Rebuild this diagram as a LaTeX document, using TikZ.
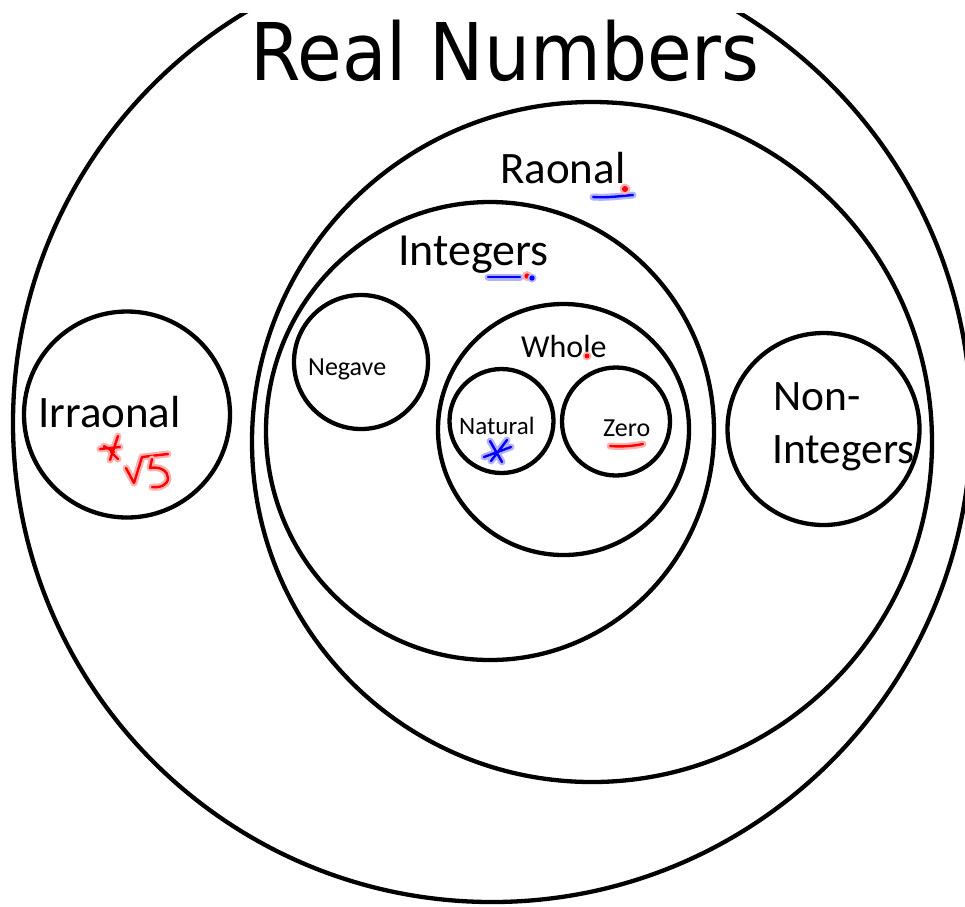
\documentclass[tikz,border=0pt]{standalone}
\usepackage{fontspec}
\setmainfont{Carlito}
\newfontfamily\titlefont{DejaVu Sans}
\usetikzlibrary{shapes.geometric}
\tikzset{
  setring/.style={draw=black, line width=4.3pt, shape=ellipse, inner sep=0pt, fill=none},
  lbl/.style={anchor=base west, inner sep=0pt, text=black},
  redink/.style={draw=red, line width=2.4pt, line cap=round, line join=round,
    preaction={draw=red!30, line width=7pt, line cap=round, line join=round}},
  blueink/.style={draw=blue, line width=2.4pt, line cap=round, line join=round,
    preaction={draw=blue!30, line width=7pt, line cap=round, line join=round}}
}
\begin{document}
\begin{tikzpicture}[x=1pt,y=-1pt]
\useasboundingbox (0,0) rectangle (965,906);
\fill[white] (0,0) rectangle (965,906);
% outer circle, cut at the top
\begin{scope}
  \clip (0,13) rectangle (965,906);
  \node[setring, minimum width=958pt, minimum height=958pt] (real) at (492,423) {};
\end{scope}
\node[setring, minimum width=680pt, minimum height=680pt] (rational) at (592,442) {};
\node[setring, minimum width=448pt, minimum height=458pt] (integers) at (490,431) {};
\node[setring, minimum width=134pt, minimum height=134pt] (negative) at (361,362) {};
\node[setring, minimum width=251pt, minimum height=251pt] (whole) at (563.5,429.5) {};
\node[setring, minimum width=104pt, minimum height=104pt] (natural) at (501.5,421) {};
\node[setring, minimum width=108pt, minimum height=108pt] (zero) at (616,421.5) {};
\node[setring, minimum width=206pt, minimum height=206pt] (irrational) at (127,414.5) {};
\node[setring, minimum width=192pt, minimum height=192pt] (nonint) at (823.5,429) {};

% labels
\node[lbl] (tReal) at (250,80) {\titlefont\fontsize{79.6}{90}\selectfont\scalebox{0.913}[1]{Real Numbers}};
\node[lbl] (tRat) at (500,183) {\fontsize{45}{54}\selectfont Raonal};
\node[lbl] (tInt) at (398,265) {\fontsize{46}{55}\selectfont Integers};
\node[lbl] (tWhole) at (521,357) {\fontsize{32}{38}\selectfont Whole};
\node[lbl] (tNeg) at (308,375) {\fontsize{26}{31}\selectfont Negave};
\node[lbl] (tNat) at (459,434) {\fontsize{25}{30}\selectfont Natural};
\node[lbl] (tZero) at (603,436) {\fontsize{26}{31}\selectfont Zero};
\node[lbl] (tIrr) at (38,427) {\fontsize{45}{54}\selectfont Irraonal};
\node[lbl] (tNon) at (773,410) {\fontsize{43.5}{52}\selectfont Non-};
\node[lbl] (tNonI) at (772,463) {\fontsize{43.5}{52}\selectfont Integers};

% handwritten marks
\draw[blueink] (593,197) .. controls (608,198) and (620,196) .. (633,195);
\fill[red!30] (625,189) circle[radius=5.5pt];
\fill[red] (625,189) circle[radius=3pt];
\draw[blueink] (488,277) -- (520,277);
\fill[red!30] (527,276) circle[radius=5pt];
\fill[red] (527,276) circle[radius=2.6pt];
\fill[blue!30] (532,278) circle[radius=4.5pt];
\fill[blue] (532,278) circle[radius=2.6pt];
\fill[red!30] (587,356) circle[radius=4.5pt];
\fill[red] (587,356) circle[radius=2.4pt];
\draw[blueink] (484,457) -- (511,447) (490,441) -- (502,462) (507,440) -- (491,461);
\draw[redink] (610,446) .. controls (622,447) and (633,446) .. (643,444);
\draw[redink] (100,449) -- (120,447) (118,436) -- (110,460) (111,452) -- (118,459)
  (104,446) -- (114,452);
\draw[redink] (126,468) -- (134,483) -- (142,457) -- (168,454);
\draw[redink] (152,459) -- (150,468) .. controls (160,466) and (168,471) .. (168,478)
  .. controls (168,485) and (160,488) .. (152,487);
\end{tikzpicture}
\end{document}
